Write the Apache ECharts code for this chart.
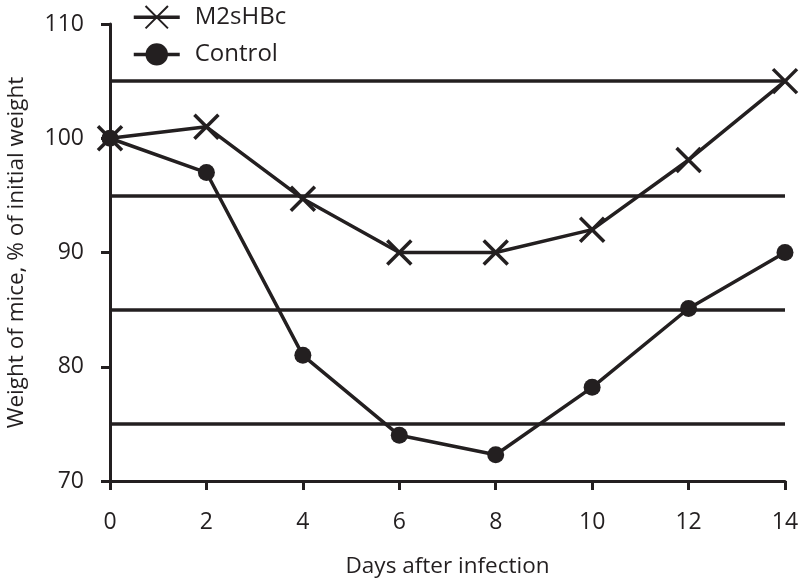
<!DOCTYPE html>
<html><head><meta charset="utf-8">
<script src="https://cdn.jsdelivr.net/npm/echarts@6/dist/echarts.min.js"></script>
<style>html,body{margin:0;padding:0;background:#fff}#c{width:800px;height:583px}</style>
</head><body><div id="c"></div>
<script>
const days = [0, 2, 4, 6, 8, 10, 12, 14];
const m2shbc = [100, 101, 94.7, 90, 90, 92, 98.1, 105];
const control = [100, 97, 81, 74, 72.3, 78.2, 85.1, 90];
const refLines = [75, 85, 95, 105];
const seriesNames = ['M2sHBc', 'Control'];
const xTitle = 'Days after infection';
const yTitle = 'Weight of mice, % of initial weight';

const ink = '#231f20';
const font = '"Open Sans", "Noto Sans", sans-serif';
const crossPath = 'path://M0,0L10,10M10,0L0,10';

const chart = echarts.init(document.getElementById('c'), null, {renderer: 'canvas'});
chart.setOption({
  animation: false,
  backgroundColor: '#fff',
  grid: {left: 110, right: 15, top: 24, bottom: 102, containLabel: false, outerBoundsMode: 'none'},
  legend: {
    orient: 'vertical', left: 127, top: 0, itemWidth: 46, itemHeight: 28, itemGap: 13,
    textStyle: {fontFamily: font, fontSize: 24, color: ink, padding: [0, 0, 0, 10]},
    lineStyle: {width: 3.5, color: ink},
    data: seriesNames
  },
  xAxis: {
    type: 'value', min: 0, max: 14, interval: 2,
    name: xTitle, nameLocation: 'middle', nameGap: 74,
    nameTextStyle: {fontFamily: font, fontSize: 22.5, color: ink},
    axisLine: {lineStyle: {color: ink, width: 3}},
    axisTick: {show: true, inside: false, length: 9, lineStyle: {color: ink, width: 3}},
    axisLabel: {fontFamily: font, fontSize: 23, color: ink, margin: 30},
    splitLine: {show: false}
  },
  yAxis: {
    type: 'value', min: 70, max: 110, interval: 10,
    name: yTitle, nameLocation: 'middle', nameGap: 82,
    nameTextStyle: {fontFamily: font, fontSize: 22.5, color: ink},
    axisLine: {show: true, lineStyle: {color: ink, width: 3}},
    axisTick: {show: true, inside: false, length: 9, lineStyle: {color: ink, width: 3}},
    axisLabel: {fontFamily: font, fontSize: 23, color: ink, margin: 26},
    splitLine: {show: false}
  },
  series: [
    {
      name: seriesNames[0], type: 'line',
      data: days.map((d, i) => [d, m2shbc[i]]),
      symbol: crossPath, symbolSize: 24,
      lineStyle: {color: ink, width: 3.5},
      itemStyle: {color: ink, borderColor: ink, borderWidth: 3.5},
      z: 3,
      markLine: {
        silent: true, symbol: 'none',
        label: {show: false},
        lineStyle: {color: ink, width: 3.5, type: 'solid'},
        data: refLines.map(v => ({yAxis: v}))
      }
    },
    {
      name: seriesNames[1], type: 'line',
      data: days.map((d, i) => [d, control[i]]),
      symbol: 'circle', symbolSize: 17,
      lineStyle: {color: ink, width: 3.5},
      itemStyle: {color: ink},
      z: 4
    }
  ]
});
</script></body></html>
